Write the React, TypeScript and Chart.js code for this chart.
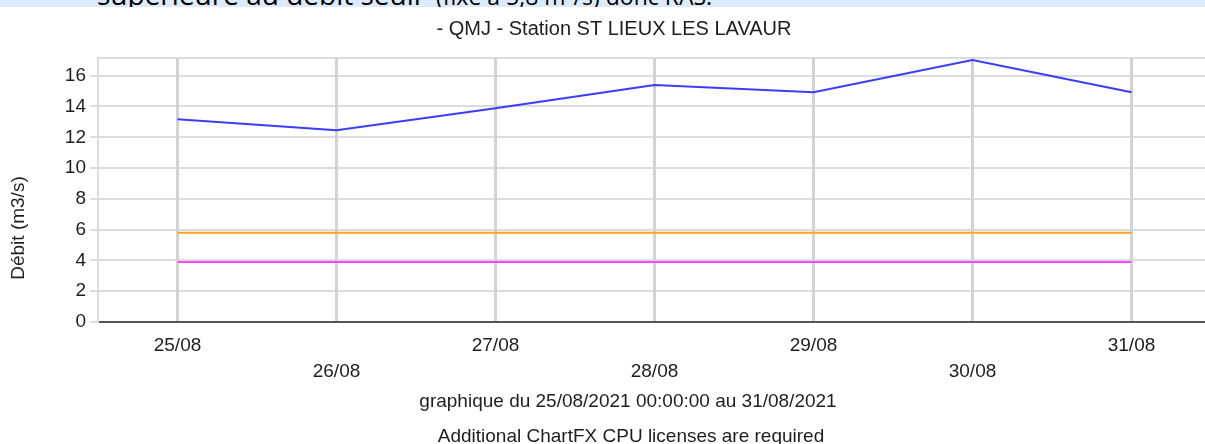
import React, { useEffect, useRef } from 'react';
import { Chart, registerables } from 'chart.js';

Chart.register(...registerables);

// ---- data ----
const CATEGORIES = ['25/08', '26/08', '27/08', '28/08', '29/08', '30/08', '31/08'];
const QMJ = [13.17, 12.45, 13.88, 15.4, 14.92, 17.02, 14.92];
const SEUIL = [5.8, 5.8, 5.8, 5.8, 5.8, 5.8, 5.8];
const ALERTE = [3.9, 3.9, 3.9, 3.9, 3.9, 3.9, 3.9];
const Y_TICKS = [0, 2, 4, 6, 8, 10, 12, 14, 16];
const Y_MAX = 17.15;

const TITLE = '- QMJ - Station ST LIEUX LES LAVAUR';
const Y_TITLE = 'Débit (m3/s)';
const FOOTER_1 = 'graphique du 25/08/2021 00:00:00 au 31/08/2021';
const FOOTER_2 = 'Additional ChartFX CPU licenses are required';

const FONT = "'Liberation Sans', Arial, sans-serif";
const TEXT_COLOR = '#1e1e1e';

const cfxTexts = {
  id: 'cfxTexts',
  afterDraw(chart: any, _args: any, opts: any) {
    const ctx = chart.ctx;
    ctx.save();
    ctx.fillStyle = opts.color;
    ctx.font = `${opts.size}px ${FONT}`;
    ctx.textAlign = 'center';
    ctx.textBaseline = 'alphabetic';
    // rotated y-axis title
    ctx.save();
    ctx.translate(opts.yTitleX, opts.yTitleY);
    ctx.rotate(-Math.PI / 2);
    ctx.fillText(opts.yTitle, 0, 0);
    ctx.restore();
    // footers
    opts.footers.forEach((f: any) => ctx.fillText(f.text, f.x, f.y));
    ctx.restore();
  },
};

export default function App() {
  const ref = useRef<HTMLCanvasElement | null>(null);

  useEffect(() => {
    if (!ref.current) return;
    const chart = new Chart(ref.current, {
      type: 'line',
      data: {
        labels: CATEGORIES,
        datasets: [
          { data: QMJ, borderColor: '#3c3cff', borderWidth: 2, pointRadius: 0, tension: 0, fill: false },
          { data: SEUIL, borderColor: '#ffa31f', borderWidth: 2, pointRadius: 0, tension: 0, fill: false },
          { data: ALERTE, borderColor: '#ff44ff', borderWidth: 2, pointRadius: 0, tension: 0, fill: false },
        ],
      },
      options: {
        responsive: false,
        animation: false,
        events: [],
        layout: { padding: { left: 17, right: 18, top: 0, bottom: 0 } },
        plugins: {
          legend: { display: false },
          tooltip: { enabled: false },
          title: {
            display: true,
            text: TITLE,
            color: TEXT_COLOR,
            font: { family: FONT, size: 20, weight: 'normal', lineHeight: 1.2 },
            padding: { top: 17, bottom: 17 },
          },
          cfxTexts: {
            color: TEXT_COLOR,
            size: 19,
            yTitle: Y_TITLE,
            yTitleX: 24,
            yTitleY: 228,
            footers: [
              { text: FOOTER_1, x: 628, y: 407 },
              { text: FOOTER_2, x: 631, y: 442 },
            ],
          },
        } as any,
        scales: {
          x: {
            offset: true,
            grid: { offset: false, color: '#d3d3d3', lineWidth: 3, drawTicks: false, z: 0 },
            border: { color: '#555555', width: 2 },
            ticks: {
              color: TEXT_COLOR,
              font: { family: FONT, size: 19, lineHeight: 1.4 },
              padding: 10,
              maxRotation: 0,
              minRotation: 0,
              autoSkip: false,
              callback: (_v: any, i: number) => (i % 2 ? ['', CATEGORIES[i]] : CATEGORIES[i]),
            },
            afterFit: (s: any) => {
              s.height = 122;
            },
          },
          y: {
            min: 0,
            max: Y_MAX,
            afterBuildTicks: (s: any) => {
              s.ticks = [...Y_TICKS, Y_MAX].map((value) => ({ value }));
            },
            grid: {
              color: '#dcdcdc',
              lineWidth: 2,
              tickLength: 8,
              tickColor: (c: any) => (c.tick && c.tick.value === Y_MAX ? 'rgba(0,0,0,0)' : '#dcdcdc'),
              z: -1,
            },
            border: { color: '#dcdcdc', width: 2 },
            ticks: {
              color: TEXT_COLOR,
              font: { family: FONT, size: 19 },
              padding: 4,
              callback: (v: any) => (Y_TICKS.includes(v) ? String(v) : ''),
            },
            afterFit: (s: any) => {
              s.width = 81;
            },
          },
        },
      },
      plugins: [cfxTexts],
    } as any);
    return () => chart.destroy();
  }, []);

  return (
    <div
      style={{
        position: 'fixed',
        left: 0,
        top: 0,
        width: 1205,
        height: 444,
        overflow: 'hidden',
        background: '#ffffff',
      }}
    >
      <canvas
        ref={ref}
        width={1229}
        height={444}
        style={{ position: 'absolute', left: 0, top: 0, width: 1229, height: 444 }}
      />
      <div
        style={{
          position: 'absolute',
          left: 0,
          top: 0,
          width: '100%',
          height: 7,
          background: '#dcebfc',
          overflow: 'hidden',
        }}
      >
        <div
          style={{
            position: 'absolute',
            left: 97,
            top: -20,
            whiteSpace: 'nowrap',
            fontFamily: "'Open Sans', sans-serif",
            fontSize: 28,
            lineHeight: '28px',
            color: '#000',
          }}
        >
          <span>
            supérieure au <u>débit seuil</u>
          </span>
          <span style={{ fontSize: 23 }}>" (fixe à 5,8 m³/s) donc RAS.</span>
        </div>
      </div>
    </div>
  );
}
